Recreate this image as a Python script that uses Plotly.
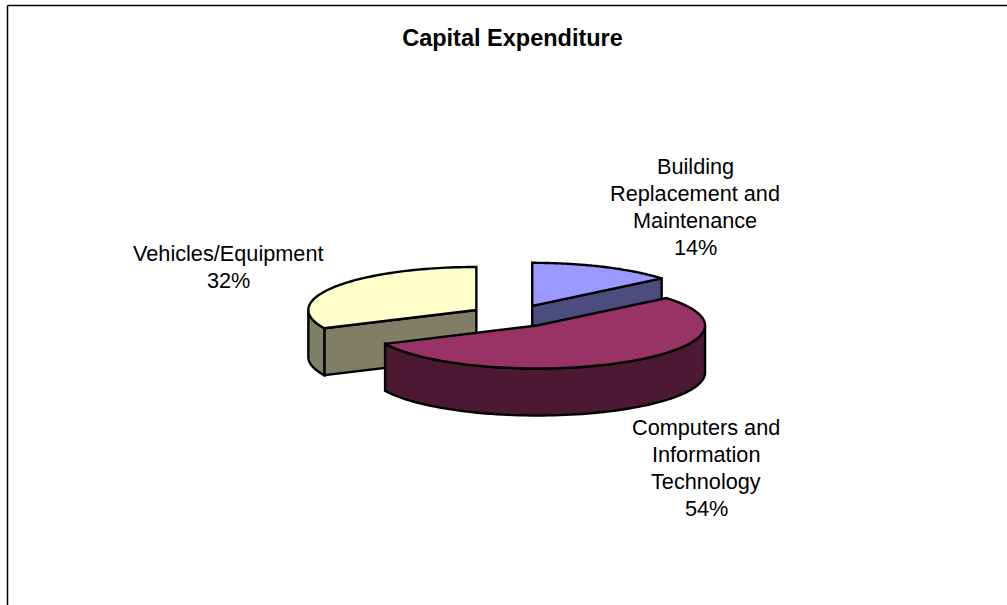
import numpy as np
import plotly.graph_objects as go

categories = ["Building<br>Replacement and<br>Maintenance", "Computers and<br>Information<br>Technology", "Vehicles/Equipment"]
percent_values = [14, 54, 32]
label_anchor = [(695, 206.5), (706, 468), (228, 266.5)]
top_colors = ["#9999FF", "#993366", "#FFFFCC"]
side_colors = ["#4C4C7F", "#4C1933", "#7F7F66"]
draw_order = [0, 2, 1]

W, H = 1007, 605
CX, CY = 513.5, 316
RX, RY = 168, 43
PULL, DEPTH = 44, 47
LINE_STEP = 27


def rim(a0, a1, ox, oy, dy=0):
    t = np.radians(np.linspace(a0, a1, 80))
    return ox + RX * np.sin(t), oy + dy - RY * np.cos(t)


fig = go.Figure()


def poly(xs, ys, fill):
    fig.add_trace(go.Scatter(x=np.asarray(xs), y=np.asarray(ys), mode="lines", fill="toself",
                             fillcolor=fill, line=dict(color="black", width=2.4, simplify=False),
                             hoverinfo="skip", showlegend=False))


total = sum(percent_values)
edges = np.cumsum([0] + percent_values) / total * 360
for i in draw_order:
    a0, a1 = edges[i], edges[i + 1]
    mid = np.radians((a0 + a1) / 2)
    ox = CX + PULL * np.sin(mid)
    oy = CY - PULL * RY / RX * np.cos(mid)
    for a, sign in ((a0, -1), (a1, 1)):
        if sign * np.sin(np.radians(a)) > 1e-6:
            rx_, ry_ = rim(a, a, ox, oy)
            px, py = rx_[0], ry_[0]
            poly([ox, px, px, ox, ox], [oy, py, py + DEPTH, oy + DEPTH, oy], side_colors[i])
    lo, hi = max(a0, 90), min(a1, 270)
    if hi > lo:
        x1, y1 = rim(lo, hi, ox, oy)
        x2, y2 = rim(hi, lo, ox, oy, DEPTH)
        poly(np.r_[x1, x2, x1[0]], np.r_[y1, y2, y1[0]], side_colors[i])
    xr, yr = rim(a0, a1, ox, oy)
    poly(np.r_[ox, xr, ox], np.r_[oy, yr, oy], top_colors[i])

font = dict(family="Liberation Sans, Arial, sans-serif", size=21.7, color="black")
for name, pct, (lx, ly) in zip(categories, percent_values, label_anchor):
    lines = name.split("<br>") + [f"{pct}%"]
    for j, line in enumerate(lines):
        fig.add_annotation(x=lx, y=ly + (j - (len(lines) - 1) / 2) * LINE_STEP, text=line,
                           showarrow=False, font=font, align="center")

fig.add_shape(type="line", x0=7.5, x1=7.5, y0=5.5, y1=605, line=dict(color="black", width=1.5))
fig.add_shape(type="line", x0=7.5, x1=1007, y0=5.5, y1=5.5, line=dict(color="black", width=1.5))

fig.update_layout(
    width=W, height=H, autosize=False, margin=dict(l=0, r=0, t=0, b=0),
    paper_bgcolor="white", plot_bgcolor="white", showlegend=False,
    title=dict(text="<b>Capital Expenditure</b>", x=512.5 / W, xanchor="center", y=1 - 38 / H, yanchor="middle",
               font=dict(family="Liberation Sans, Arial, sans-serif", size=23.5, color="black")),
    xaxis=dict(range=[0, W], visible=False, fixedrange=True),
    yaxis=dict(range=[H, 0], visible=False, fixedrange=True),
)
fig.write_html("out.html", config=dict(displayModeBar=False),
               post_script="document.body.style.margin='0';document.documentElement.style.overflow='hidden';")
